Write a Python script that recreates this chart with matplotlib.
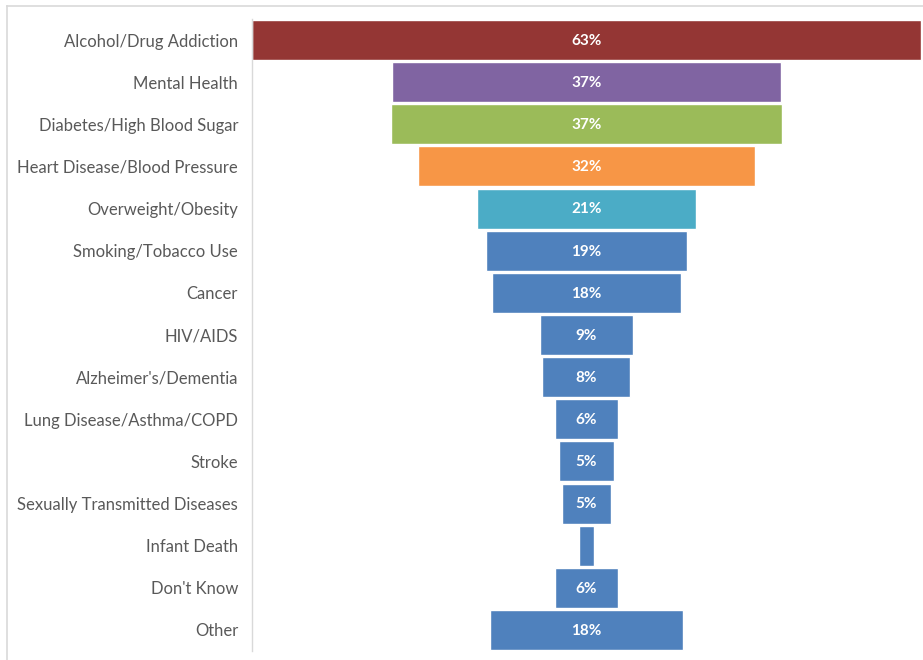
import matplotlib
matplotlib.use("Agg")
import matplotlib.pyplot as plt
from matplotlib.lines import Line2D

categories = ["Alcohol/Drug Addiction", "Mental Health", "Diabetes/High Blood Sugar",
              "Heart Disease/Blood Pressure", "Overweight/Obesity", "Smoking/Tobacco Use",
              "Cancer", "HIV/AIDS", "Alzheimer's/Dementia", "Lung Disease/Asthma/COPD",
              "Stroke", "Sexually Transmitted Diseases", "Infant Death", "Don't Know", "Other"]
values = [63.0, 36.6, 36.8, 31.7, 20.6, 18.9, 17.8, 8.7, 8.3, 5.9, 5.2, 4.6, 1.4, 5.9, 18.1]
labels = ["63%", "37%", "37%", "32%", "21%", "19%", "18%", "9%", "8%", "6%", "5%", "5%", "", "6%", "18%"]
colors = ["#943634", "#8064A2", "#9BBB59", "#F79646", "#4BACC6"] + ["#4F81BD"] * 10

plt.rcParams['font.family'] = ['Lato', 'DejaVu Sans']

fig = plt.figure(figsize=(9.23, 6.6), dpi=100)
W, H = 923, 660
ax = fig.add_axes([252 / W, 1 - 651 / H, (923 - 252) / W, (651 - 19) / H])

ys = list(range(len(categories)))
lefts = [-v / 2 for v in values]
ax.barh(ys, values, left=lefts, height=0.95, color=colors, edgecolor="white", linewidth=1)
for y, v, lab in zip(ys, values, labels):
    if lab:
        ax.text(0, y + 0.02, lab, ha="center", va="center", color="white",
                fontsize=11, fontweight="bold")

ax.set_ylim(len(categories) - 0.5, -0.5)
ax.set_xlim(-31.5, 31.7)
ax.set_yticks(ys)
ax.set_yticklabels(categories, fontsize=12, color="#595959")
ax.tick_params(axis="y", length=0, pad=10)
ax.set_xticks([])
for s in ["top", "right", "bottom"]:
    ax.spines[s].set_visible(False)
ax.spines["left"].set_color("#D9D9D9")
ax.spines["left"].set_linewidth(1)

# outer chart frame
fig.add_artist(Line2D([7 / W, 1], [1 - 6 / H, 1 - 6 / H], transform=fig.transFigure,
                      color="#D9D9D9", linewidth=1.2))
fig.add_artist(Line2D([7 / W, 7 / W], [0, 1 - 6 / H], transform=fig.transFigure,
                      color="#D9D9D9", linewidth=1.2))

fig.savefig("out.png", dpi=100)
